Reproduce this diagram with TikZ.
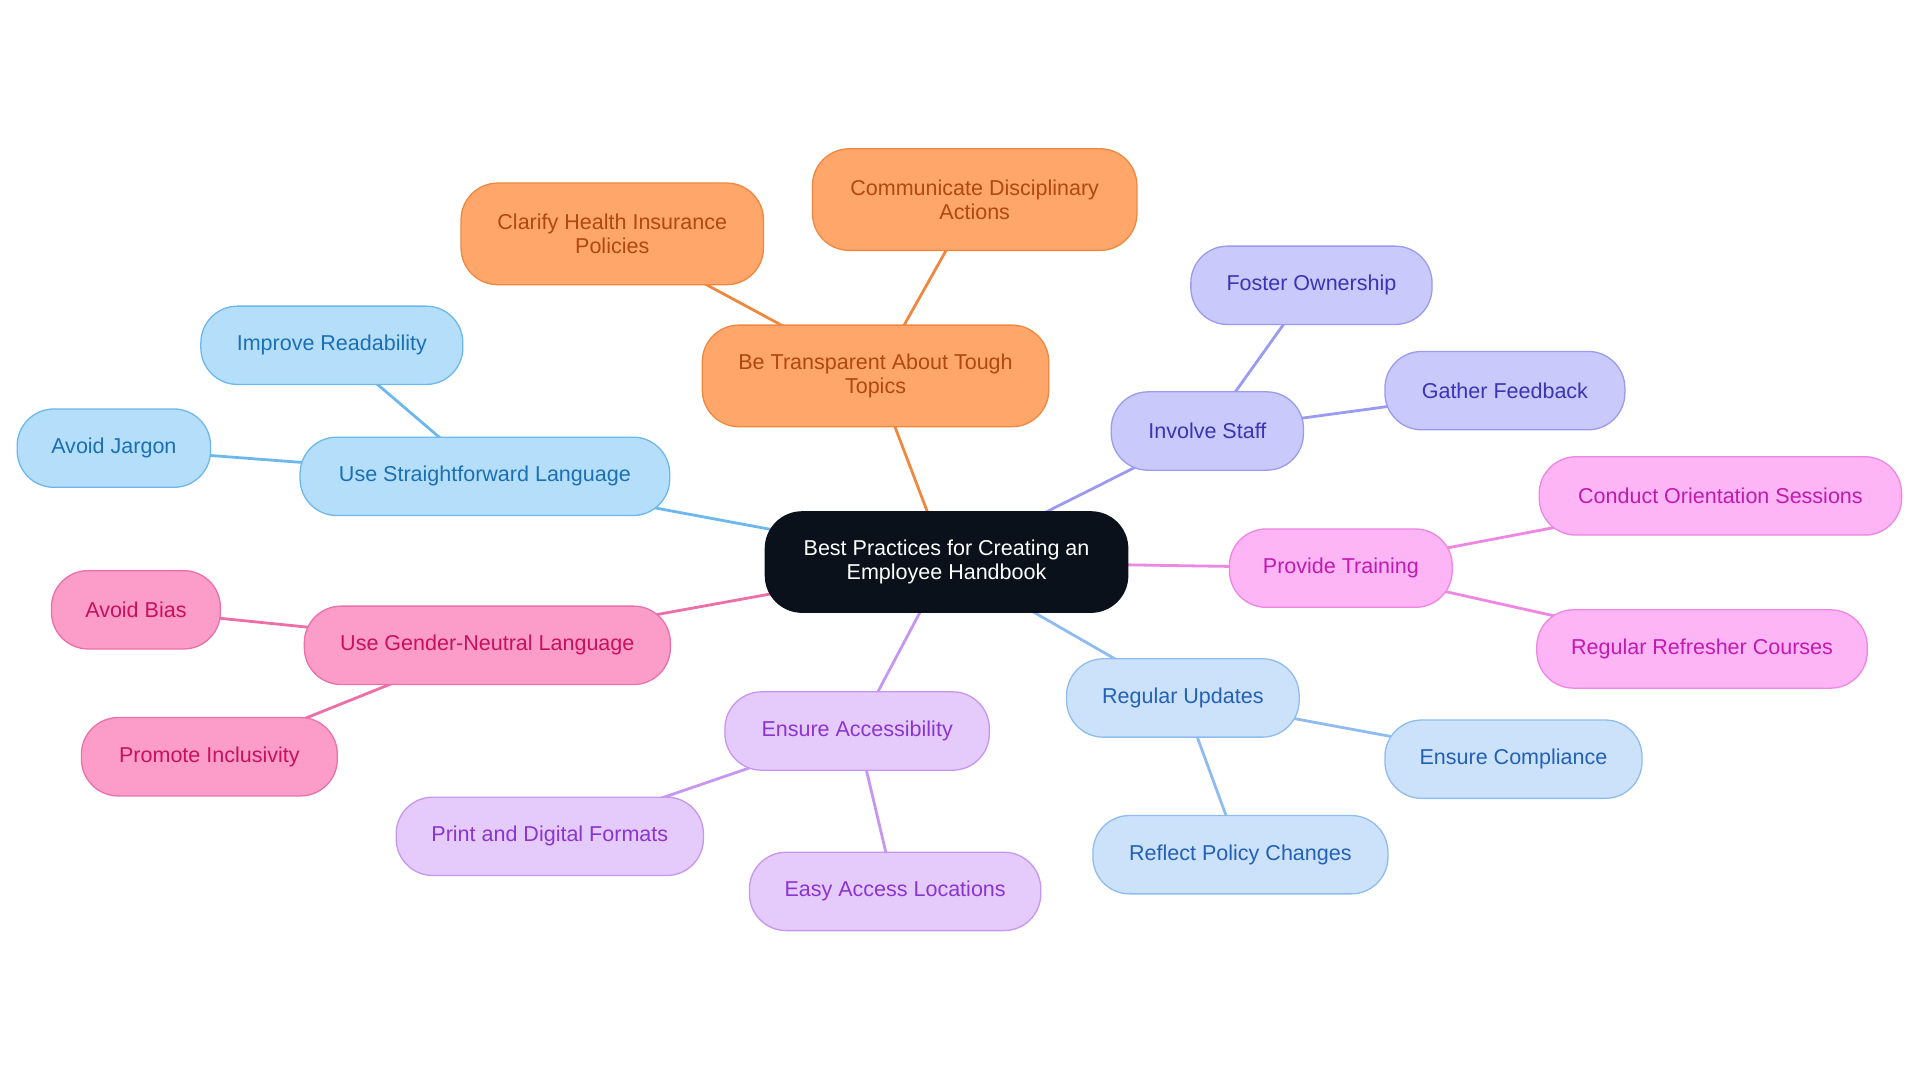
\documentclass[tikz,border=0pt]{standalone}
\usepackage{fontspec}
\setmainfont{Liberation Sans}
\usetikzlibrary{backgrounds}
\definecolor{cC}{HTML}{0B111B}
\definecolor{bF}{HTML}{B5DEFB}\definecolor{bD}{HTML}{6CB8EE}\definecolor{bT}{HTML}{1A6FB5}
\definecolor{oF}{HTML}{FFA76B}\definecolor{oD}{HTML}{F0873F}\definecolor{oT}{HTML}{B0480F}
\definecolor{vF}{HTML}{C9C9FB}\definecolor{vD}{HTML}{9A9AF0}\definecolor{vT}{HTML}{3B35B5}
\definecolor{mF}{HTML}{FDB5F5}\definecolor{mD}{HTML}{EE86E2}\definecolor{mT}{HTML}{C21AB0}
\definecolor{lF}{HTML}{CCE2FA}\definecolor{lD}{HTML}{8FBCF0}\definecolor{lT}{HTML}{2360B8}
\definecolor{aF}{HTML}{E5CBFB}\definecolor{aD}{HTML}{C795F2}\definecolor{aT}{HTML}{8A35D0}
\definecolor{pF}{HTML}{FC9DC9}\definecolor{pD}{HTML}{EE6FA8}\definecolor{pT}{HTML}{C8105F}
\begin{document}
\begin{tikzpicture}[x=0.02cm,y=-0.02cm,
 box/.style={rounded corners=0.6cm,minimum height=1.28cm,font=\fontsize{10}{11}\selectfont,align=center,inner sep=2pt,line width=0.6pt},
 B/.style={box,fill=bF,draw=bD,text=bT},
 O/.style={box,fill=oF,draw=oD,text=oT},
 V/.style={box,fill=vF,draw=vD,text=vT},
 M/.style={box,fill=mF,draw=mD,text=mT},
 L/.style={box,fill=lF,draw=lD,text=lT},
 A/.style={box,fill=aF,draw=aD,text=aT},
 P/.style={box,fill=pF,draw=pD,text=pT},
 e/.style={line width=1.3pt}]
\useasboundingbox (0,0) rectangle (1568,884);
\node[box,fill=cC,draw=cC,text=white,minimum width=5.92cm,minimum height=1.64cm] (c) at (773,459) {Best Practices for Creating an\\Employee Handbook};
\node[B,minimum width=6.04cm] (s) at (396,389) {Use Straightforward Language};
\node[B,minimum width=4.28cm] (s1) at (271,282) {Improve Readability};
\node[B,minimum width=3.16cm] (s2) at (93,366) {Avoid Jargon};
\node[O,minimum width=5.66cm,minimum height=1.66cm] (t) at (715,307) {Be Transparent About Tough\\Topics};
\node[O,minimum width=4.94cm,minimum height=1.66cm] (t1) at (500,191) {Clarify Health Insurance\\Policies};
\node[O,minimum width=5.3cm,minimum height=1.66cm] (t2) at (796,163) {Communicate Disciplinary\\Actions};
\node[V,minimum width=3.14cm] (i) at (986,352) {Involve Staff};
\node[V,minimum width=3.94cm] (i1) at (1071,233) {Foster Ownership};
\node[V,minimum width=3.92cm] (i2) at (1229,319) {Gather Feedback};
\node[M,minimum width=3.64cm] (p) at (1095,464) {Provide Training};
\node[M,minimum width=5.92cm] (p1) at (1405,405) {Conduct Orientation Sessions};
\node[M,minimum width=5.4cm] (p2) at (1390,530) {Regular Refresher Courses};
\node[L,minimum width=3.8cm] (r) at (966,570) {Regular Updates};
\node[L,minimum width=4.2cm] (r1) at (1236,620) {Ensure Compliance};
\node[L,minimum width=4.82cm] (r2) at (1013,698) {Reflect Policy Changes};
\node[A,minimum width=4.32cm] (a) at (700,597) {Ensure Accessibility};
\node[A,minimum width=5.02cm] (a1) at (449,683) {Print and Digital Formats};
\node[A,minimum width=4.76cm] (a2) at (731,728) {Easy Access Locations};
\node[P,minimum width=5.98cm] (g) at (398,527) {Use Gender-Neutral Language};
\node[P,minimum width=2.76cm] (g1) at (111,498) {Avoid Bias};
\node[P,minimum width=4.18cm] (g2) at (171,618) {Promote Inclusivity};
\begin{scope}[on background layer]
\draw[e,draw=bD] (c.center)--(s.center) (s.center)--(s1.center) (s.center)--(s2.center);
\draw[e,draw=oD] (c.center)--(t.center) (t.center)--(t1.center) (t.center)--(t2.center);
\draw[e,draw=vD] (c.center)--(i.center) (i.center)--(i1.center) (i.center)--(i2.center);
\draw[e,draw=mD] (c.center)--(p.center) (p.center)--(p1.center) (p.center)--(p2.center);
\draw[e,draw=lD] (c.center)--(r.center) (r.center)--(r1.center) (r.center)--(r2.center);
\draw[e,draw=aD] (c.center)--(a.center) (a.center)--(a1.center) (a.center)--(a2.center);
\draw[e,draw=pD] (c.center)--(g.center) (g.center)--(g1.center) (g.center)--(g2.center);
\end{scope}
\end{tikzpicture}
\end{document}
